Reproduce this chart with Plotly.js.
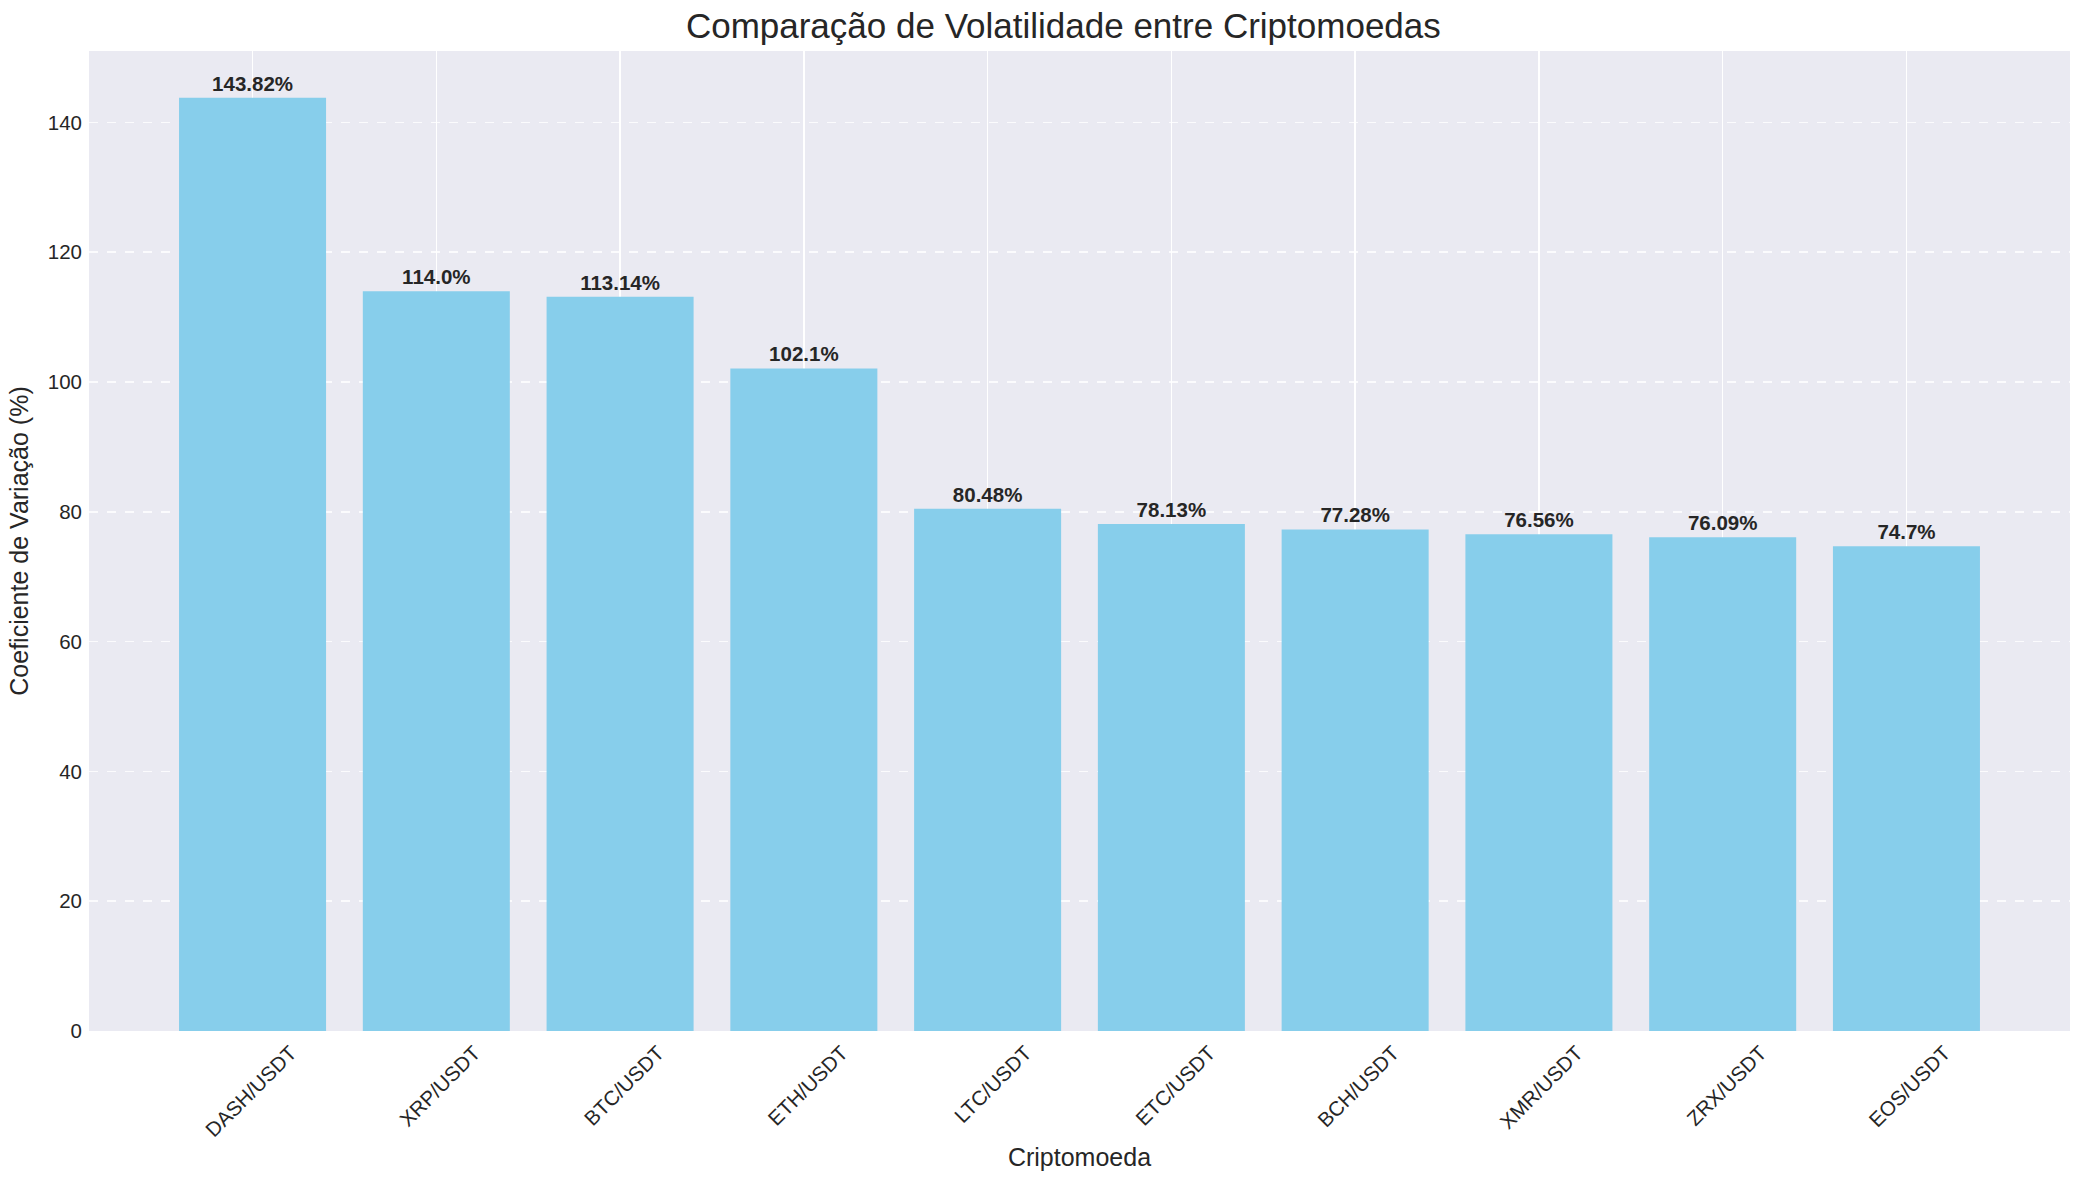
<!DOCTYPE html>
<html>
<head>
<meta charset="utf-8">
<script src="https://cdn.plot.ly/plotly-3.0.1.min.js"></script>
<style>
  html, body { margin: 0; padding: 0; background: #fff; }
  #chart { width: 2085px; height: 1183px; }
</style>
</head>
<body>
<div id="chart"></div>
<script>
const moedas = ['DASH/USDT', 'XRP/USDT', 'BTC/USDT', 'ETH/USDT', 'LTC/USDT',
                'ETC/USDT', 'BCH/USDT', 'XMR/USDT', 'ZRX/USDT', 'EOS/USDT'];
const coefVariacao = [143.82, 114.0, 113.14, 102.1, 80.48, 78.13, 77.28, 76.56, 76.09, 74.7];
const yTicks = [0, 20, 40, 60, 80, 100, 120, 140];

// rotulo estilo python: 114.0 -> "114.0%", 143.82 -> "143.82%"
function rotulo(v) {
    let s = v.toFixed(2);
    if (s.endsWith('0')) s = s.slice(0, -1);
    return s + '%';
}

const xIdx = moedas.map((_, i) => i);
const textColor = '#262626';
const fonte = 'Liberation Sans, Arial, sans-serif';

const trace = {
    type: 'bar',
    x: xIdx,
    y: coefVariacao,
    width: 0.8,
    marker: { color: '#87CEEB', line: { width: 0 } },
    text: coefVariacao.map(rotulo),
    textposition: 'outside',
    cliponaxis: false,
    textfont: { family: fonte, size: 20.5, color: textColor, weight: 'bold' },
    hoverinfo: 'x+y'
};

const layout = {
    width: 2085,
    height: 1183,
    paper_bgcolor: '#ffffff',
    plot_bgcolor: '#EAEAF2',
    margin: { l: 89, r: 15, t: 51, b: 152 },
    showlegend: false,
    font: { family: fonte, color: textColor },
    title: {
        text: 'Comparação de Volatilidade entre Criptomoedas',
        font: { family: fonte, size: 35, color: textColor },
        x: 0.51, xanchor: 'center',
        y: 0.978, yanchor: 'middle'
    },
    xaxis: {
        range: [-0.89, 9.89],
        tickmode: 'array',
        tickvals: xIdx,
        ticktext: moedas,
        tickangle: -45,
        ticklabelshift: 38,
        ticklabelstandoff: 5,
        tickfont: { family: fonte, size: 20.5, color: textColor },
        showgrid: true,
        gridcolor: '#ffffff',
        gridwidth: 1.6,
        zeroline: false,
        showline: false,
        ticks: '',
        title: {
            text: 'Criptomoeda',
            font: { family: fonte, size: 25, color: textColor },
            standoff: 8
        }
    },
    yaxis: {
        range: [0, 151.01],
        tickmode: 'array',
        tickvals: yTicks,
        tickfont: { family: fonte, size: 20.5, color: textColor },
        showgrid: true,
        gridcolor: 'rgba(255,255,255,0.8)',
        gridwidth: 1.6,
        griddash: 'dash',
        zeroline: false,
        showline: false,
        ticks: '',
        ticklabelstandoff: 6,
        title: {
            text: 'Coeficiente de Variação (%)',
            font: { family: fonte, size: 25, color: textColor },
            standoff: 12
        }
    },
    bargap: 0.2
};

Plotly.newPlot('chart', [trace], layout, { displayModeBar: false, staticPlot: true });
</script>
</body>
</html>
